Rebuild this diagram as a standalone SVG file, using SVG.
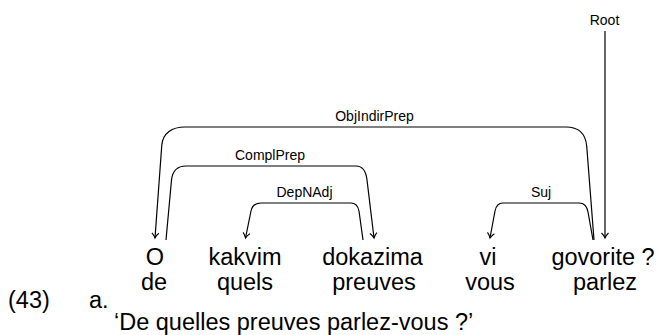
<svg xmlns="http://www.w3.org/2000/svg" width="657" height="335" viewBox="0 0 657 335">
<style>
.w{font-family:"Liberation Sans",Arial,sans-serif;font-size:23.5px;fill:#000;text-anchor:middle}
.s{font-family:"Liberation Sans",Arial,sans-serif;font-size:23.5px;fill:#000}
.l{font-family:"Liberation Sans",Arial,sans-serif;font-size:14px;fill:#000;text-anchor:middle}
.e{fill:none;stroke:#000;stroke-width:1.2}
</style>
<defs>
<marker id="ah" markerUnits="userSpaceOnUse" markerWidth="12" markerHeight="12" viewBox="-6 -6 12 12" refX="0" refY="0" orient="auto">
<path d="M -5,-3.5 C -3.2,-1.6 -1.2,-0.5 0,0 C -1.2,0.5 -3.2,1.6 -5,3.5" fill="none" stroke="#000" stroke-width="1.1"/>
</marker>
</defs>
<g id="edges">
<g id="e-root"><path class="e" d="M 605,31 L 605,238" marker-end="url(#ah)"/><text class="l" x="604.5" y="25">Root</text></g>
<g id="e-objindirprep"><path class="e" d="M 594,240 L 586.7,146 C 585.5,133 578,127 566,127 L 185,127 C 172,127 163,133 161.8,145 L 155,238" marker-end="url(#ah)"/><text class="l" x="374.5" y="121">ObjIndirPrep</text></g>
<g id="e-complprep"><path class="e" d="M 166,240 L 171.5,180 C 172.5,171 177,166 186,166 L 356,166 C 363,166 366,171 367,180 L 374,238" marker-end="url(#ah)"/><text class="l" x="270" y="160">ComplPrep</text></g>
<g id="e-depnadj"><path class="e" d="M 363,240 L 359,211 C 358,206 356,203 351,203 L 261,203 C 255,203 252,206 251,211 L 245.5,238" marker-end="url(#ah)"/><text class="l" x="304.5" y="197">DepNAdj</text></g>
<g id="e-suj"><path class="e" d="M 593,240 L 588,212 C 587,206 584,203 579,203 L 503,203 C 498,203 496,206 495,211 L 490,238" marker-end="url(#ah)"/><text class="l" x="541" y="197">Suj</text></g>
</g>
<g id="n-o"><text class="w" x="155" y="265">O</text><text class="w" x="154" y="290">de</text></g>
<g id="n-kakvim"><text class="w" x="245" y="265">kakvim</text><text class="w" x="245" y="290">quels</text></g>
<g id="n-dokazima"><text class="w" x="372.5" y="265">dokazima</text><text class="w" x="374" y="290">preuves</text></g>
<g id="n-vi"><text class="w" x="488" y="265">vi</text><text class="w" x="490" y="290">vous</text></g>
<g id="n-govorite"><text class="w" x="603" y="265">govorite ?</text><text class="w" x="605" y="290">parlez</text></g>
<g id="example"><text class="s" x="8" y="308">(43)</text><text class="s" x="89" y="308">a.</text><text class="s" x="114" y="330">‘De quelles preuves parlez-vous ?’</text></g>
</svg>
